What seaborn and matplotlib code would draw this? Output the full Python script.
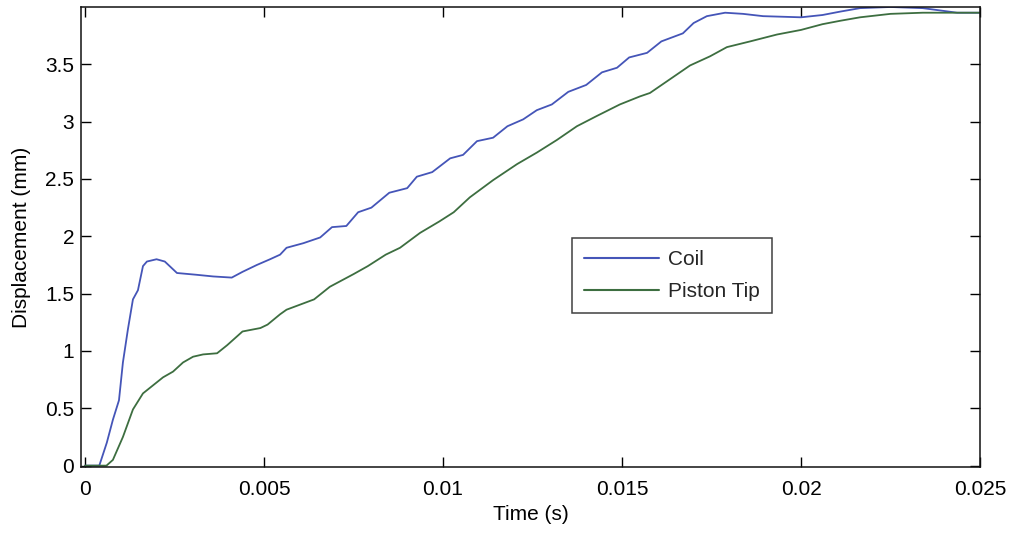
import numpy as np
import pandas as pd
import matplotlib
matplotlib.use("Agg")
import matplotlib.pyplot as plt
import seaborn as sns

# ---- data ----
coil_t = [0.0, 0.0004, 0.00061, 0.00078, 0.00095, 0.00106, 0.0012, 0.00134, 0.00148,
          0.00162, 0.00173, 0.0020, 0.00223, 0.00257, 0.0031, 0.00358, 0.0041, 0.0044,
          0.0048, 0.00517, 0.00545, 0.00563, 0.0061, 0.00657, 0.0069, 0.0073, 0.00763,
          0.0080, 0.0085, 0.0090, 0.00927, 0.0097, 0.0102, 0.01056, 0.01095, 0.0114,
          0.0118, 0.01224, 0.01262, 0.01304, 0.0135, 0.0140, 0.01444, 0.01486, 0.0152,
          0.0157, 0.0161, 0.0167, 0.0170, 0.01737, 0.01788, 0.01838, 0.01894, 0.0200,
          0.0206, 0.0211, 0.02165, 0.0225, 0.0234, 0.02388, 0.02436, 0.0250]
coil_y = [0.0, 0.0, 0.20, 0.40, 0.57, 0.90, 1.19, 1.45, 1.53,
          1.74, 1.78, 1.80, 1.78, 1.68, 1.665, 1.65, 1.64, 1.69,
          1.75, 1.80, 1.84, 1.90, 1.94, 1.99, 2.08, 2.09, 2.21,
          2.25, 2.38, 2.42, 2.52, 2.56, 2.68, 2.71, 2.83, 2.86,
          2.96, 3.02, 3.10, 3.15, 3.26, 3.32, 3.43, 3.47, 3.56,
          3.60, 3.70, 3.77, 3.86, 3.92, 3.95, 3.94, 3.92, 3.91,
          3.93, 3.96, 3.99, 4.00, 3.99, 3.97, 3.95, 3.95]

piston_t = [0.0, 0.0006, 0.00078, 0.00106, 0.00134, 0.00162, 0.0019, 0.00218, 0.00246,
            0.00274, 0.00302, 0.0033, 0.00369, 0.00397, 0.0044, 0.0049, 0.0051, 0.00545,
            0.00563, 0.0064, 0.00684, 0.0075, 0.0079, 0.0084, 0.0088, 0.00936, 0.0099,
            0.0103, 0.01075, 0.0114, 0.01207, 0.01262, 0.01318, 0.01374, 0.0143, 0.01494,
            0.0155, 0.01578, 0.01634, 0.0169, 0.01746, 0.01793, 0.01858, 0.01933, 0.0200,
            0.0206, 0.0211, 0.02165, 0.0225, 0.0234, 0.0250]
piston_y = [0.0, 0.0, 0.05, 0.25, 0.49, 0.63, 0.70, 0.77, 0.82,
            0.90, 0.95, 0.97, 0.98, 1.05, 1.17, 1.20, 1.23, 1.32,
            1.36, 1.45, 1.56, 1.67, 1.74, 1.84, 1.90, 2.03, 2.13,
            2.21, 2.34, 2.49, 2.63, 2.73, 2.84, 2.96, 3.05, 3.15,
            3.22, 3.25, 3.37, 3.49, 3.57, 3.65, 3.70, 3.76, 3.80,
            3.85, 3.88, 3.91, 3.94, 3.95, 3.95]

series_names = ["Coil", "Piston Tip"]
x_ticks = [0, 0.005, 0.01, 0.015, 0.02, 0.025]
x_tick_labels = ["0", "0.005", "0.01", "0.015", "0.02", "0.025"]
y_ticks = [0, 0.5, 1, 1.5, 2, 2.5, 3, 3.5]
y_tick_labels = ["0", "0.5", "1", "1.5", "2", "2.5", "3", "3.5"]

df = pd.concat([
    pd.DataFrame({"Time": coil_t, "Displacement": coil_y, "Series": series_names[0]}),
    pd.DataFrame({"Time": piston_t, "Displacement": piston_y, "Series": series_names[1]}),
], ignore_index=True)

# ---- style ----
sns.set_style("ticks")
plt.rcParams['font.family'] = ['Liberation Sans', 'DejaVu Sans']
plt.rcParams['xtick.direction'] = 'in'
plt.rcParams['ytick.direction'] = 'in'

fig = plt.figure(figsize=(10.09, 5.33), dpi=100)
ax = fig.add_axes([0.0803, 0.1238, 0.8910, 0.8631])

palette = {"Coil": "#4555b8", "Piston Tip": "#3d6e40"}
sns.lineplot(data=df, x="Time", y="Displacement", hue="Series", palette=palette,
             hue_order=series_names, sort=False, estimator=None, linewidth=1.3, ax=ax)

ax.set_xlim(-0.00011, 0.025)
ax.set_ylim(-0.012, 4.0)
ax.set_xticks(x_ticks)
ax.set_xticklabels(x_tick_labels)
ax.set_yticks(y_ticks)
ax.set_yticklabels(y_tick_labels)
ax.tick_params(axis='both', which='both', direction='in', length=7, width=1.0,
               top=True, right=True, labelsize=15, colors='#000000')
ax.tick_params(axis='x', pad=9)
ax.tick_params(axis='y', pad=5)
for s in ax.spines.values():
    s.set_visible(True)
    s.set_linewidth(1.1)
    s.set_color('#111111')

ax.set_xlabel("Time (s)", fontsize=15, labelpad=5, color='#000000')
ax.set_ylabel("Displacement (mm)", fontsize=15, labelpad=10, color='#000000')

leg = ax.legend(loc='upper left', bbox_to_anchor=(0.546, 0.498), borderaxespad=0,
                fontsize=15, frameon=True, fancybox=False, handlelength=3.6,
                handletextpad=0.4, labelspacing=0.6, borderpad=0.6)
leg.get_frame().set_edgecolor('#111111')
leg.get_frame().set_linewidth(1.1)
for line in leg.get_lines():
    line.set_linewidth(1.5)

fig.savefig("out.png", dpi=100)
